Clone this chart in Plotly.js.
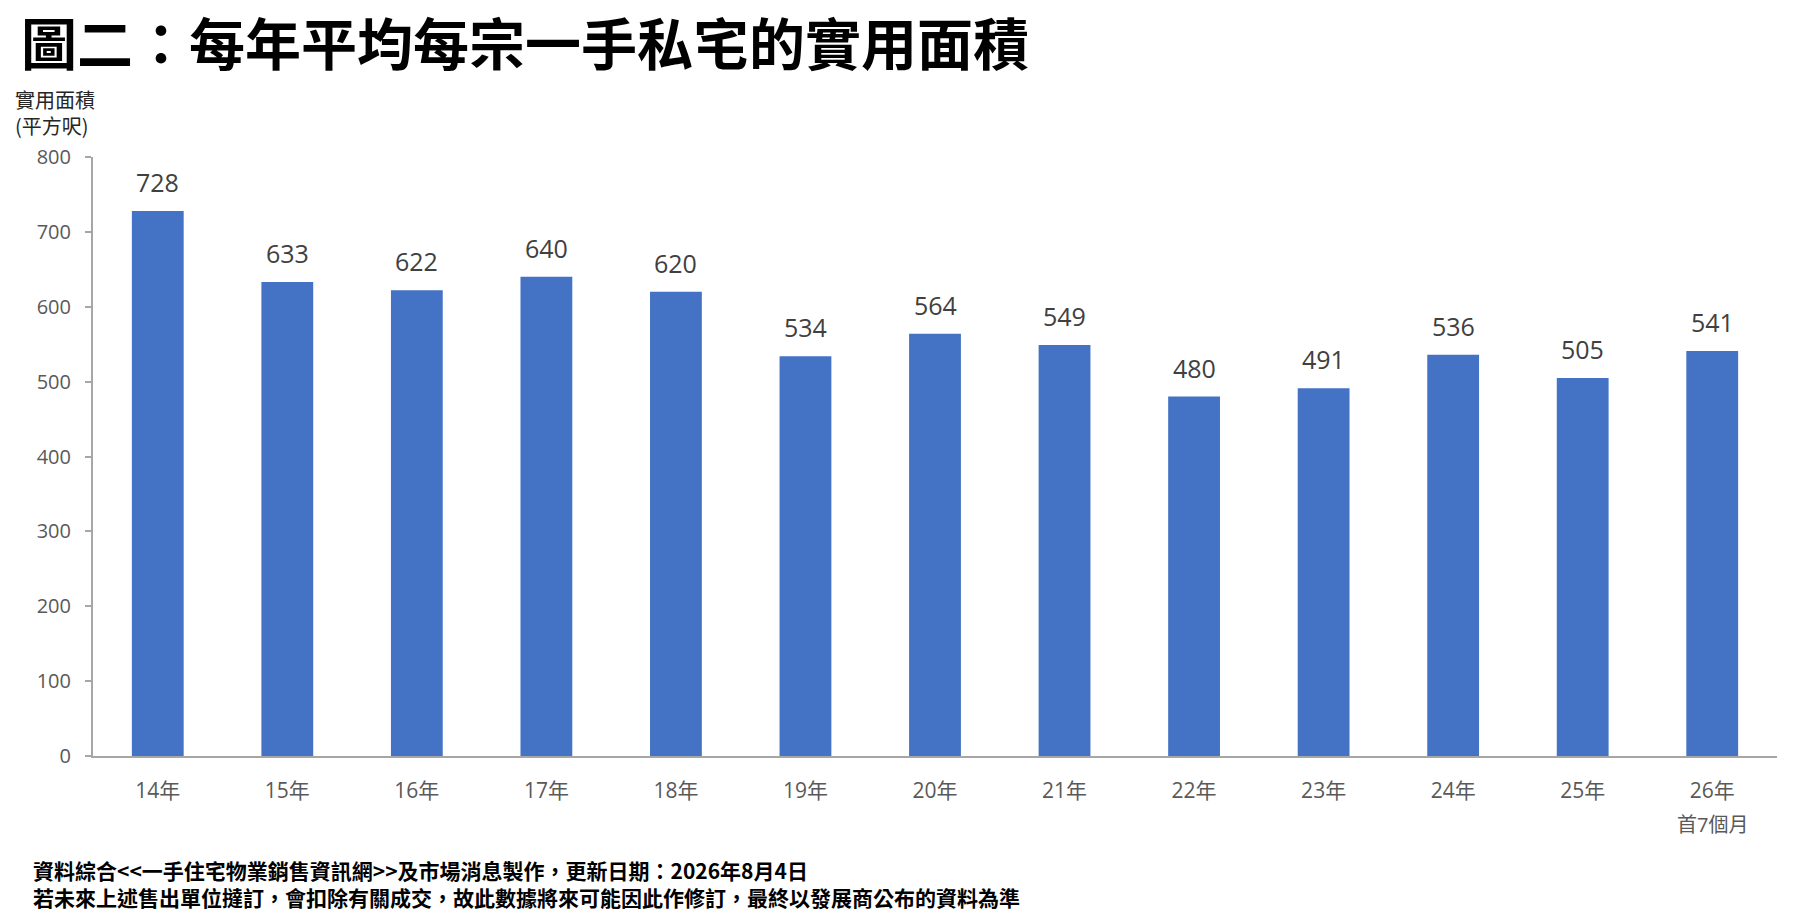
<!DOCTYPE html>
<html>
<head>
<meta charset="utf-8">
<script src="https://cdn.plot.ly/plotly-3.0.1.min.js"></script>
<style>
  html, body { margin: 0; padding: 0; background: #ffffff; }
  #chart { width: 1804px; height: 921px; }
</style>
</head>
<body>
<div id="chart"></div>
<script>
// ---- Data ----
const categories = ['14年', '15年', '16年', '17年', '18年', '19年', '20年', '21年', '22年', '23年', '24年', '25年', '26年'];
const areaValues = [728, 633, 622, 640, 620, 534, 564, 549, 480, 491, 536, 505, 541];
const yTickValues = [0, 100, 200, 300, 400, 500, 600, 700, 800];
const titleText = '圖二：每年平均每宗一手私宅的實用面積';
const yLabelText = '實用面積<br>(平方呎)';
const lastCategoryNote = '首7個月';
const footerLines = [
  '資料綜合<<一手住宅物業銷售資訊網>>及市場消息製作，更新日期：2026年8月4日',
  '若未來上述售出單位撻訂，會扣除有關成交，故此數據將來可能因此作修訂，最終以發展商公布的資料為準'
];

const FONT = '"Open Sans", "Noto Sans CJK TC", sans-serif';
const CJK = '"Noto Sans CJK TC", "Open Sans", sans-serif';

const trace = {
  type: 'bar',
  x: categories,
  y: areaValues,
  marker: { color: '#4472C4' },
  hoverinfo: 'x+y'
};

const annotations = [];
// data labels above bars
categories.forEach((c, i) => {
  annotations.push({
    x: c, y: areaValues[i], xref: 'x', yref: 'y',
    text: String(areaValues[i]),
    showarrow: false, yanchor: 'bottom', xanchor: 'center',
    yshift: 10,
    font: { family: FONT, size: 25, color: '#404040' }
  });
});
// y axis unit label
annotations.push({
  xref: 'paper', yref: 'paper', x: 0, y: 1, xanchor: 'left', yanchor: 'bottom',
  xshift: -80, yshift: 15, align: 'left',
  text: yLabelText, showarrow: false,
  font: { family: CJK, size: 20, color: '#262626' }
});
// note under last category
annotations.push({
  xref: 'x', yref: 'paper', x: categories[categories.length - 1], y: 0,
  xanchor: 'center', yanchor: 'middle', yshift: -68,
  text: lastCategoryNote, showarrow: false,
  font: { family: FONT, size: 20, color: '#595959' }
});
// footer (one block, two lines)
annotations.push({
  xref: 'paper', yref: 'paper', x: 0, y: 0, xanchor: 'left', yanchor: 'middle',
  xshift: -62, yshift: -127,
  text: footerLines.join('<br>'), showarrow: false, align: 'left',
  font: { family: CJK, size: 21, color: '#000000', weight: 600 }
});

const layout = {
  width: 1804, height: 921,
  paper_bgcolor: '#ffffff', plot_bgcolor: '#ffffff',
  margin: { l: 93, r: 27, t: 157, b: 165 },
  showlegend: false,
  bargap: 0.6,
  title: {
    text: titleText,
    xref: 'container', yref: 'container',
    x: 21 / 1804, xanchor: 'left',
    y: 1 - 45 / 921, yanchor: 'middle',
    font: { family: CJK, size: 56, color: '#000000', weight: 700 }
  },
  xaxis: {
    type: 'category',
    showline: true, linecolor: '#A6A6A6', linewidth: 2,
    ticks: '', showgrid: false, zeroline: false,
    ticklabelstandoff: 15,
    tickfont: { family: FONT, size: 21, color: '#595959' }
  },
  yaxis: {
    range: [0, 800],
    tickvals: yTickValues,
    showline: true, linecolor: '#A6A6A6', linewidth: 2,
    ticks: 'outside', ticklen: 6, tickwidth: 2, tickcolor: '#A6A6A6',
    showgrid: false, zeroline: false,
    ticklabelstandoff: 10,
    tickfont: { family: FONT, size: 20, color: '#595959' }
  },
  annotations: annotations
};

Plotly.newPlot('chart', [trace], layout, { displayModeBar: false, responsive: false });
</script>
</body>
</html>
